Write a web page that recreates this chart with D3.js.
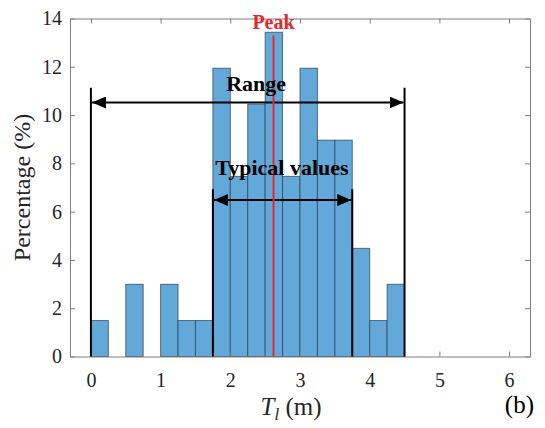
<!DOCTYPE html>
<html>
<head>
<meta charset="utf-8">
<script src="https://cdn.jsdelivr.net/npm/d3@7"></script>
<style>
  body { margin: 0; background: #fff; }
  svg { display: block; font-family: "Liberation Serif", "Times New Roman", serif; }
</style>
</head>
<body>
<div id="chart"></div>
<script>
// histogram bins (left edge, width 0.25 m) and percentage of samples in each
var binStarts = [0, 0.25, 0.5, 0.75, 1, 1.25, 1.5, 1.75, 2, 2.25, 2.5, 2.75, 3, 3.25, 3.5, 3.75, 4, 4.25];
var percents  = [1.49, 0, 2.99, 0, 2.99, 1.49, 1.49, 11.94, 7.46, 10.45, 13.43, 7.46, 11.94, 8.96, 8.96, 4.48, 1.49, 2.99];
var binWidth = 0.25;

var xTicks = [0, 1, 2, 3, 4, 5, 6];
var yTicks = [0, 2, 4, 6, 8, 10, 12, 14];

// annotation values
var rangeLimits = [0, 4.5];
var typicalLimits = [1.75, 3.75];
var peakValue = 2.62;

var width = 545, height = 428;
var margin = {top: 18.5, right: 15, bottom: 71.5, left: 70};

var x = d3.scaleLinear().domain([-0.3, 6.3]).range([margin.left, width - margin.right]);
var y = d3.scaleLinear().domain([0, 14]).range([height - margin.bottom, margin.top]);

var svg = d3.select("#chart").append("svg")
  .attr("width", width)
  .attr("height", height);

var axisColor = "#7f7f7f";
var textColor = "#262626";

// bars
svg.selectAll(".bar")
  .data(binStarts.map(function (d, i) { return {x0: d, v: percents[i]}; })
    .filter(function (d) { return d.v > 0; }))
  .enter().append("rect")
  .attr("class", "bar")
  .attr("x", function (d) { return x(d.x0); })
  .attr("width", function (d) { return x(d.x0 + binWidth) - x(d.x0); })
  .attr("y", function (d) { return y(d.v); })
  .attr("height", function (d) { return y(0) - y(d.v); })
  .style("fill", "#62a8d9")
  .style("stroke", "#2b3f4f")
  .style("stroke-opacity", 0.7)
  .style("stroke-width", 1);

// axes: box with inward ticks on all sides
var tickLen = 5;
var bottomAxis = d3.axisBottom(x).tickValues(xTicks).tickFormat(d3.format("d"))
  .tickSizeInner(-tickLen).tickSizeOuter(0).tickPadding(16);
var topAxis = d3.axisTop(x).tickValues(xTicks).tickSizeInner(-tickLen).tickSizeOuter(0).tickFormat("");
var leftAxis = d3.axisLeft(y).tickValues(yTicks).tickFormat(d3.format("d"))
  .tickSizeInner(-tickLen).tickSizeOuter(0).tickPadding(8);
var rightAxis = d3.axisRight(y).tickValues(yTicks).tickSizeInner(-tickLen).tickSizeOuter(0).tickFormat("");

function styleAxis(g) {
  g.select(".domain").attr("stroke", axisColor);
  g.selectAll(".tick line").attr("stroke", axisColor);
  g.selectAll(".tick text")
    .attr("fill", textColor)
    .style("font-family", "Liberation Serif, serif")
    .style("font-size", "20px");
}

svg.append("g").attr("transform", "translate(0," + y(0) + ")").call(bottomAxis).call(styleAxis);
svg.append("g").attr("transform", "translate(0," + y(14) + ")").call(topAxis).call(styleAxis);
svg.append("g").attr("transform", "translate(" + x(-0.3) + ",0)").call(leftAxis).call(styleAxis);
svg.append("g").attr("transform", "translate(" + x(6.3) + ",0)").call(rightAxis).call(styleAxis);

// arrow heads
var defs = svg.append("defs");
defs.append("marker")
  .attr("id", "arrow")
  .attr("viewBox", "0 0 14 12")
  .attr("refX", 14).attr("refY", 6)
  .attr("markerWidth", 14).attr("markerHeight", 12)
  .attr("markerUnits", "userSpaceOnUse")
  .attr("orient", "auto-start-reverse")
  .append("path")
  .attr("d", "M0,0 L14,6 L0,12 Z")
  .attr("fill", "#000");

function bracket(limits, lineTop, arrowY) {
  limits.forEach(function (v) {
    svg.append("line")
      .attr("x1", x(v)).attr("x2", x(v))
      .attr("y1", y(0)).attr("y2", y(lineTop))
      .attr("stroke", "#000").attr("stroke-width", 2);
  });
  svg.append("line")
    .attr("x1", x(limits[0]) + 1).attr("x2", x(limits[1]) - 1)
    .attr("y1", y(arrowY)).attr("y2", y(arrowY))
    .attr("stroke", "#000").attr("stroke-width", 2)
    .attr("marker-start", "url(#arrow)")
    .attr("marker-end", "url(#arrow)");
}

bracket(rangeLimits, 11.13, 10.52);
bracket(typicalLimits, 6.93, 6.48);

// peak line
svg.append("line")
  .attr("x1", x(peakValue)).attr("x2", x(peakValue))
  .attr("y1", y(0)).attr("y2", y(13.3))
  .attr("stroke", "#e8262e").attr("stroke-width", 2);

// labels
svg.append("text")
  .attr("x", x(2.37)).attr("y", y(11.0))
  .attr("text-anchor", "middle")
  .style("font-weight", "bold").style("font-size", "22px")
  .text("Range");

svg.append("text")
  .attr("x", x(2.74)).attr("y", y(7.52))
  .attr("text-anchor", "middle")
  .style("font-weight", "bold").style("font-size", "22px")
  .text("Typical values");

svg.append("text")
  .attr("x", x(peakValue)).attr("y", y(13.55))
  .attr("text-anchor", "middle")
  .attr("fill", "#e8262e")
  .style("font-weight", "bold").style("font-size", "20px")
  .text("Peak");

// axis titles
svg.append("text")
  .attr("transform", "translate(30," + y(7) + ") rotate(-90)")
  .attr("text-anchor", "middle")
  .attr("fill", textColor)
  .style("font-size", "24px")
  .text("Percentage (%)");

var xlabel = svg.append("text")
  .attr("x", 291).attr("y", 415)
  .attr("text-anchor", "middle")
  .attr("fill", textColor)
  .style("font-size", "25px");
xlabel.append("tspan").style("font-style", "italic").text("T");
xlabel.append("tspan").style("font-style", "italic").style("font-size", "17px").attr("dy", 5).text("l");
xlabel.append("tspan").attr("dy", -5).text(" (m)");

svg.append("text")
  .attr("x", 534).attr("y", 413)
  .attr("text-anchor", "end")
  .attr("fill", "#000")
  .style("font-size", "25px")
  .text("(b)");
</script>
</body>
</html>
